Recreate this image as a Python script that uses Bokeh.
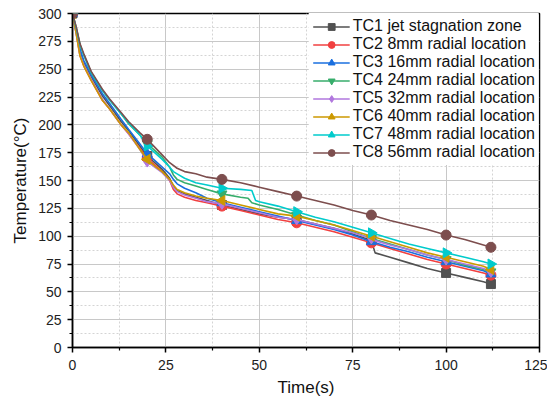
import math
from bokeh.plotting import figure
from bokeh.models import FixedTicker, Legend, LegendItem
from bokeh.embed import file_html
from bokeh.resources import INLINE

# ---- data ----
t_a = [0, 1, 2, 3, 5, 8, 10, 13, 15, 18, 20, 22, 24, 26, 27, 28, 30, 33, 36, 40,
       45, 50, 55, 60, 65, 70, 75, 80, 81, 85, 90, 95, 100, 105, 110, 112]
t_tc4 = [0, 1, 2, 3, 5, 8, 10, 13, 15, 18, 20, 22, 24, 26, 27, 28, 30, 33, 36, 40,
         45, 47, 48, 50, 55, 60, 65, 70, 75, 80, 85, 90, 95, 100, 105, 110, 112]
t_tc7 = [0, 1, 2, 3, 5, 8, 10, 13, 15, 18, 20, 22, 24, 26, 27, 28, 30, 33, 36, 40,
         45, 48, 49, 50, 55, 60, 65, 70, 75, 80, 85, 90, 95, 100, 105, 110, 112]
t_tc8 = [0, 1, 2, 3, 5, 8, 10, 13, 15, 18, 20, 22, 24, 26, 28, 30, 33, 36, 40,
         45, 50, 55, 60, 65, 70, 75, 80, 85, 90, 95, 100, 105, 110, 112]

tc1 = [300, 284, 266, 256, 243, 226, 217, 203, 195, 181, 172, 166, 160, 152, 145, 141, 138, 135, 132, 128,
       124, 120, 117, 115, 111, 107, 102, 96, 85, 81, 76, 71, 67, 63, 59, 57]
tc2 = [300, 282, 262, 253, 240, 222, 214, 200, 192, 179, 170, 164, 158, 150, 142, 138, 135, 132, 130, 127,
       123, 119, 115, 112, 108, 104, 99, 94, 93, 89, 84, 79, 75, 71, 67, 65]
tc3 = [300, 285, 268, 258, 245, 228, 219, 205, 196, 183, 174, 168, 162, 156, 151, 147, 143, 139, 134, 130,
       126, 122, 118, 114, 110, 106, 101, 95, 94, 90, 86, 81, 77, 73, 69, 66]
tc4 = [300, 287, 272, 263, 247, 231, 222, 210, 201, 191, 183, 177, 171, 162, 155, 151, 148, 145, 142, 138,
       135, 134, 130, 128, 124, 119, 114, 110, 104, 98, 93, 88, 83, 79, 74, 70, 68]
tc5 = [300, 282, 263, 254, 241, 223, 214, 200, 192, 178, 167, 162, 157, 150, 144, 140, 137, 134, 131, 129,
       125, 121, 117, 115, 111, 107, 103, 98, 96, 92, 88, 83, 79, 75, 71, 68]
tc6 = [300, 282, 262, 253, 240, 222, 214, 200, 193, 178, 169, 163, 158, 151, 146, 142, 139, 136, 134, 132,
       128, 124, 120, 118, 114, 110, 105, 100, 99, 95, 90, 85, 81, 77, 73, 70]
tc7 = [300, 287, 272, 263, 247, 231, 222, 210, 202, 191, 181, 175, 169, 162, 158, 156, 152, 148, 146, 143,
       142, 141, 132, 131, 127, 122, 117, 113, 108, 103, 98, 93, 89, 85, 81, 77, 75]
tc8 = [300, 288, 273, 264, 248, 232, 223, 211, 203, 193, 187, 180, 173, 166, 161, 158, 156, 153, 151,
       148, 144, 140, 136, 132, 128, 123, 119, 114, 110, 106, 101, 97, 92, 90]

marker_times = [0, 20, 40, 60, 80, 100, 112]
labels = ["TC1 jet stagnation zone", "TC2 8mm radial location", "TC3 16mm radial location",
          "TC4 24mm radial location", "TC5 32mm radial location", "TC6 40mm radial location",
          "TC7 48mm radial location", "TC8 56mm radial location"]
x_ticks = [0, 25, 50, 75, 100, 125]
y_ticks = [0, 25, 50, 75, 100, 125, 150, 175, 200, 225, 250, 275, 300]

series = [(t_a, tc1), (t_a, tc2), (t_a, tc3), (t_tc4, tc4), (t_a, tc5), (t_a, tc6), (t_tc7, tc7), (t_tc8, tc8)]
colors = ["#515151", "#F14040", "#1A6FDF", "#37AD6B", "#B177DE", "#CC9900", "#00CBCC", "#7D4E4E"]
markers = ["square", "circle", "triangle", "inverted_triangle", "diamond", "triangle", "triangle", "circle"]
angles = [0, 0, 0, 0, 0, math.pi / 2, -math.pi / 2, 0]
sizes = [9, 10, 10, 10, 11, 10, 10, 10]

FONT = "Liberation Sans"

p = figure(width=547, height=400, x_range=(0, 125), y_range=(0, 300),
           output_backend="svg", toolbar_location=None,
           min_border_left=72, min_border_right=8, min_border_top=13, min_border_bottom=53)

p.xaxis.ticker = FixedTicker(ticks=x_ticks, minor_ticks=[v + 12.5 for v in x_ticks[:-1]])
p.yaxis.ticker = FixedTicker(ticks=y_ticks, minor_ticks=[v + 12.5 for v in y_ticks[:-1]])

for ax in (p.xaxis, p.yaxis):
    ax.axis_line_color = "black"
    ax.axis_line_width = 1.5
    ax.major_tick_line_color = "black"
    ax.minor_tick_line_color = "black"
    ax.major_tick_line_width = 1.5
    ax.minor_tick_line_width = 1.2
    ax.major_tick_in = 0
    ax.major_tick_out = 5
    ax.minor_tick_in = 0
    ax.minor_tick_out = 3
    ax.major_label_text_font = FONT
    ax.major_label_text_font_size = "14px"
    ax.major_label_text_color = "#222222"
    ax.axis_label_text_font = FONT
    ax.axis_label_text_font_size = "17px"
    ax.axis_label_text_font_style = "normal"
    ax.axis_label_text_color = "#111111"

p.xaxis.major_label_standoff = 7
p.yaxis.major_label_standoff = 6
p.xaxis.axis_label = "Time(s)"
p.yaxis.axis_label = "Temperature(°C)"
p.xaxis.axis_label_standoff = 5
p.yaxis.axis_label_standoff = 5

p.outline_line_color = "black"
p.outline_line_width = 1.5
p.outline_line_alpha = 1

for g in (p.xgrid, p.ygrid):
    g.grid_line_color = "#c8c8c8"
    g.grid_line_width = 1
    g.minor_grid_line_color = "#d4d4d4"
    g.minor_grid_line_dash = "2 2"
    g.minor_grid_line_width = 1

items = []
for (tt, vv), lab, col, mk, ang, sz in zip(series, labels, colors, markers, angles, sizes):
    r1 = p.line(tt, vv, line_color=col, line_width=1.6)
    mx = [tt[i] for i in range(len(tt)) if tt[i] in marker_times]
    my = [vv[i] for i in range(len(tt)) if tt[i] in marker_times]
    r2 = p.scatter(mx, my, marker=mk, size=sz, angle=ang, fill_color=col, line_color=col)
    items.append(LegendItem(label=lab, renderers=[r1, r2]))

legend = Legend(items=items, location="top_right")
legend.label_text_font = FONT
legend.label_text_font_size = "16px"
legend.label_text_color = "#111111"
legend.glyph_width = 37
legend.glyph_height = 17
legend.label_height = 17
legend.label_standoff = 3
legend.spacing = -1
legend.padding = 4
legend.margin = 0
legend.border_line_alpha = 0
legend.background_fill_color = "white"
legend.background_fill_alpha = 1
p.add_layout(legend)

open("out.html", "w").write(file_html(p, INLINE))
